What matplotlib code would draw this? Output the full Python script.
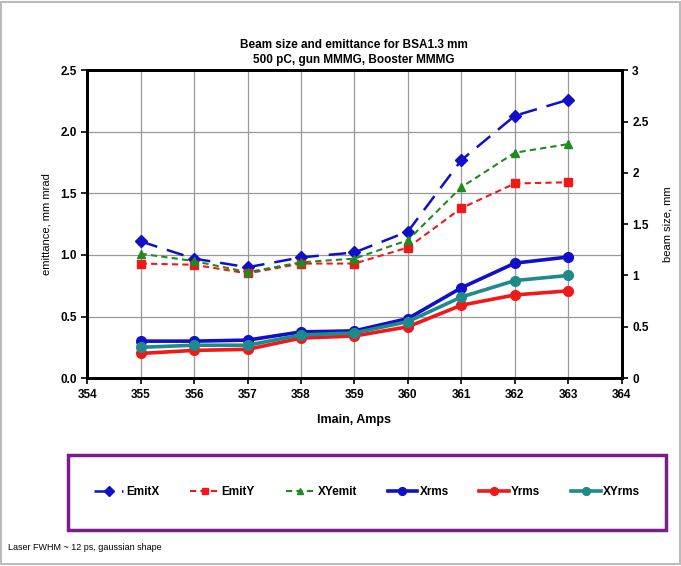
import matplotlib.pyplot as plt
from matplotlib.patches import Rectangle

plt.rcParams['font.family'] = ['Liberation Sans', 'DejaVu Sans']

# Data
imain = [355, 356, 357, 358, 359, 360, 361, 362, 363]
emit_x = [1.11, 0.97, 0.90, 0.98, 1.02, 1.19, 1.77, 2.13, 2.26]
emit_y = [0.93, 0.92, 0.85, 0.93, 0.93, 1.06, 1.38, 1.58, 1.59]
xy_emit = [1.01, 0.95, 0.86, 0.94, 0.97, 1.12, 1.55, 1.83, 1.90]
x_rms = [0.36, 0.36, 0.37, 0.45, 0.46, 0.58, 0.88, 1.12, 1.18]
y_rms = [0.24, 0.27, 0.28, 0.39, 0.41, 0.50, 0.71, 0.81, 0.85]
xy_rms = [0.30, 0.32, 0.32, 0.42, 0.44, 0.55, 0.79, 0.95, 1.00]

blue = '#1010c8'
red = '#f01818'
green = '#1f8a1f'
teal = '#1f8a8a'

fig = plt.figure(figsize=(6.81, 5.66), dpi=100)
ax1 = fig.add_axes([0.128, 0.332, 0.785, 0.544])

# emittance (left axis), dashed
ax1.plot(imain, emit_x, color=blue, lw=1.8, dashes=(7, 4), marker='D', ms=6, label='EmitX')
ax1.plot(imain, emit_y, color=red, lw=1.5, dashes=(3, 2), marker='s', ms=6, label='EmitY')
ax1.plot(imain, xy_emit, color=green, lw=1.5, dashes=(3, 2), marker='^', ms=6, label='XYemit')
ax1.set_xlim(354, 364)
ax1.set_ylim(0, 2.5)
ax1.set_xticks(range(354, 365))
ax1.set_yticks([0, 0.5, 1.0, 1.5, 2.0, 2.5])
ax1.set_yticklabels(['0.0', '0.5', '1.0', '1.5', '2.0', '2.5'])
ax1.grid(True, color='#999999', lw=0.9)
ax1.set_axisbelow(True)
ax1.set_xlabel('Imain, Amps', fontsize=9, fontweight='bold', labelpad=10)
ax1.set_ylabel('emittance, mm mrad', fontsize=8, labelpad=6)

# beam size (right axis), solid
ax2 = ax1.twinx()
ax2.plot(imain, x_rms, color=blue, lw=2.6, marker='o', ms=7, label='Xrms')
ax2.plot(imain, y_rms, color=red, lw=2.6, marker='o', ms=7, label='Yrms')
ax2.plot(imain, xy_rms, color=teal, lw=2.6, marker='o', ms=7, label='XYrms')
ax2.set_ylim(0, 3)
ax2.set_yticks([0, 0.5, 1, 1.5, 2, 2.5, 3])
ax2.set_yticklabels(['0', '0.5', '1', '1.5', '2', '2.5', '3'])
ax2.set_ylabel('beam size, mm', fontsize=8, labelpad=10)

for ax in (ax1, ax2):
    for s in ax.spines.values():
        s.set_linewidth(2)
    ax.tick_params(direction='out', length=4, width=1.2, labelsize=8.5)
    for lbl in ax.get_xticklabels() + ax.get_yticklabels():
        lbl.set_fontweight('bold')

fig.text(0.52, 0.907, 'Beam size and emittance for BSA1.3 mm\n500 pC, gun MMMG, Booster MMMG',
         ha='center', va='center', fontsize=8.5, fontweight='bold', linespacing=1.3)

# legend box
fig.add_artist(Rectangle((0.1, 0.064), 0.878, 0.132, transform=fig.transFigure,
                         fill=False, edgecolor='#7a1f8a', lw=2.5))
h1, l1 = ax1.get_legend_handles_labels()
h2, l2 = ax2.get_legend_handles_labels()
fig.legend(h1 + h2, l1 + l2, ncol=6, loc='center', bbox_to_anchor=(0.539, 0.13),
           frameon=False, prop={'weight': 'bold', 'size': 8.5},
           handlelength=2.5, columnspacing=2.6, markerscale=0.8, handletextpad=0.2)

fig.text(0.012, 0.028, 'Laser FWHM ~ 12 ps, gaussian shape', fontsize=6.5)

fig.add_artist(Rectangle((0.002, 0.003), 0.996, 0.994, transform=fig.transFigure,
                         fill=False, edgecolor='#bbbbbb', lw=1.5))

fig.savefig('out.png', dpi=100)
